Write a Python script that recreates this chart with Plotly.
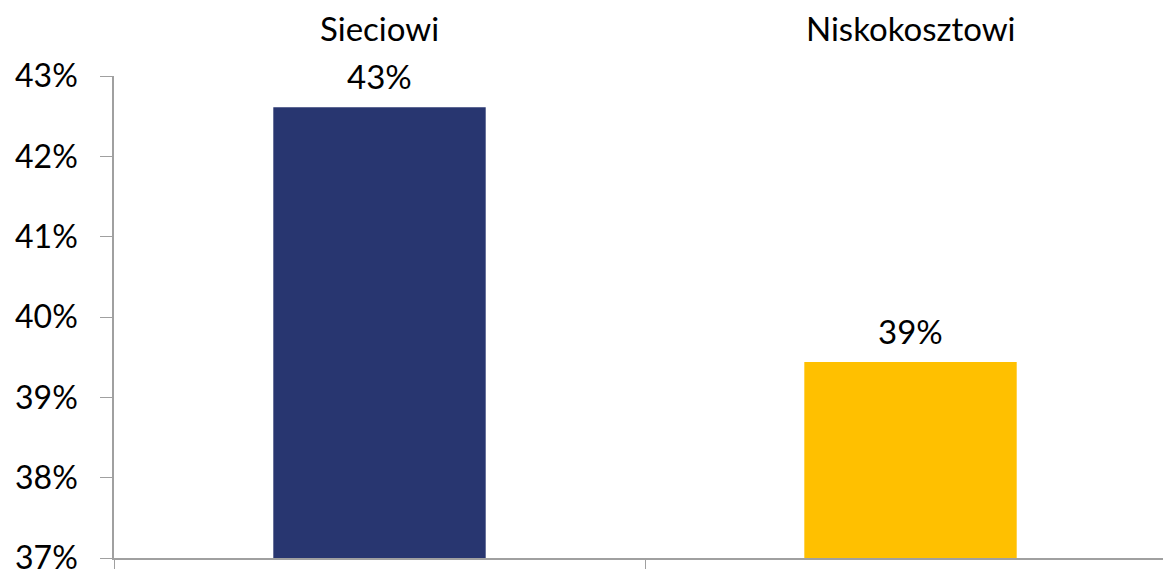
import plotly.graph_objects as go

categories = ["Sieciowi", "Niskokosztowi"]
values = [42.61, 39.44]
colors = ["#283670", "#FFC000"]

FONT = "Lato, Open Sans, sans-serif"
AXIS_GREY = "#a0a0a0"

fig = go.Figure()

fig.add_trace(
    go.Bar(
        x=categories,
        y=values,
        marker=dict(color=colors, line=dict(width=0)),
        width=0.40,
        showlegend=False,
        hoverinfo="skip",
    )
)

# value labels sitting a little above each bar
for cat, val in zip(categories, values):
    fig.add_annotation(
        x=cat,
        y=val,
        text=f"{val:.0f}%",
        showarrow=False,
        yanchor="bottom",
        yshift=9,
        font=dict(size=33, color="#000000", family=FONT),
    )

# category names above the plot area
for cat in categories:
    fig.add_annotation(
        x=cat,
        y=1,
        yref="paper",
        text=cat,
        showarrow=False,
        yanchor="bottom",
        yshift=26,
        font=dict(size=33, color="#000000", family=FONT),
    )

fig.update_layout(
    xaxis=dict(
        # the original chart runs past the right edge of the window
        range=[-0.5, 1.4755],
        showticklabels=False,
        showline=True,
        linecolor=AXIS_GREY,
        linewidth=1.5,
        ticks="outside",
        tickson="boundaries",
        ticklen=10,
        tickcolor=AXIS_GREY,
        showgrid=False,
        automargin=False,
    ),
    yaxis=dict(
        range=[37, 43],
        dtick=1,
        ticksuffix="%",
        ticks="outside",
        ticklen=12,
        tickcolor=AXIS_GREY,
        showline=True,
        linecolor=AXIS_GREY,
        linewidth=1.5,
        showgrid=False,
        zeroline=False,
        tickfont=dict(size=32, color="#000000", family=FONT),
        ticklabelstandoff=16,
        ticklabeloverflow="allow",
        automargin=False,
    ),
    plot_bgcolor="white",
    paper_bgcolor="white",
    margin=dict(l=114, r=0, t=76, b=11),
    width=1163,
    height=569,
)

# drop the browser's default body margin so the figure fills the window
fig.write_html(
    "out.html",
    config={"displayModeBar": False},
    post_script="document.body.style.margin='0';document.body.style.overflow='hidden';",
)
